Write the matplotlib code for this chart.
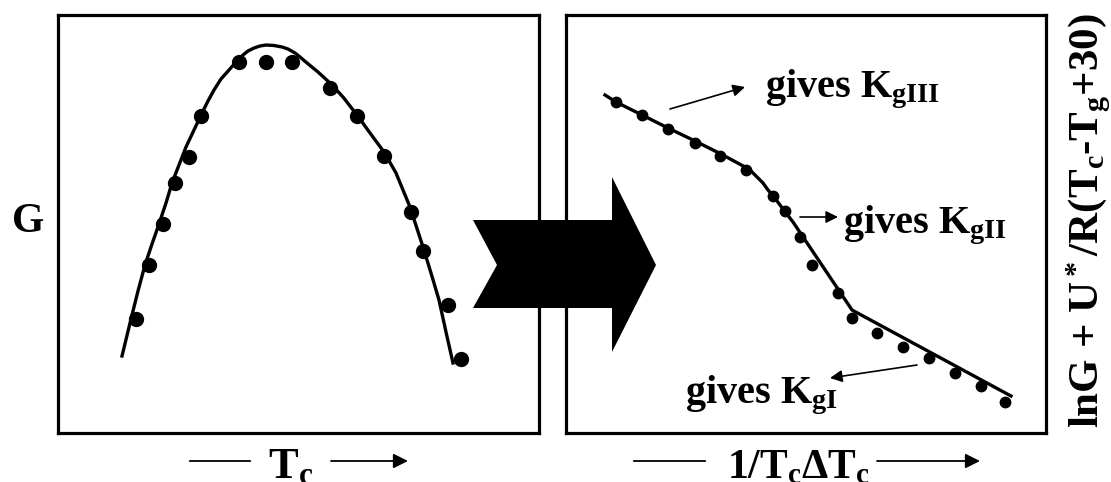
import matplotlib.pyplot as plt
from matplotlib.patches import Polygon, FancyArrowPatch

plt.rcParams['font.family'] = ['Liberation Serif', 'DejaVu Serif']
plt.rcParams['font.weight'] = 'bold'
plt.rcParams['mathtext.fontset'] = 'custom'
plt.rcParams['mathtext.rm'] = 'Liberation Serif:bold'
plt.rcParams['mathtext.it'] = 'Liberation Serif:bold'
plt.rcParams['mathtext.bf'] = 'Liberation Serif:bold'
plt.rcParams['mathtext.default'] = 'rm'

W, H = 1111, 482

# growth rate G against Tc (arbitrary units)
tc_pts = [78, 91, 105, 117, 131, 143, 181, 208, 234, 272, 299, 326, 353, 365, 390, 403]
g_pts = [114, 168, 209, 250, 276, 317, 371, 371, 371, 345, 317, 277, 221, 182, 128, 74]
tc_fit = [64, 73, 80, 87, 94, 101, 108, 114, 121, 128, 136, 144, 150, 156, 163, 171,
          179, 185, 190, 196, 202, 208, 216, 224, 230, 237, 242, 249, 260, 272, 285,
          299, 312, 326, 338, 352, 365, 373, 381, 388, 395]
g_fit = [77, 114, 142, 168, 189, 209, 230, 250, 268, 286, 303, 320, 332, 343, 354, 363,
         372, 378, 382, 385, 387, 388, 387.5, 386, 384, 380, 376, 370, 361, 350, 336,
         318, 300, 281, 260, 226, 186, 160, 133, 101, 70]

# lnG + U*/R(Tc-Tg+30) against 1/(Tc dTc)
inv_pts = [50, 76, 102, 129, 154, 180, 207, 219, 234, 246, 272, 286, 311, 337, 363, 389, 415, 439]
lng_pts = [331, 318, 304, 290, 277, 263, 237, 222, 196, 168, 140, 115, 100, 86, 75, 60, 47, 31]
inv_fit = [39, 50, 76, 102, 129, 155, 179, 185, 191, 197, 202, 208, 214, 220, 227, 286, 445]
lng_fit = [338, 331, 318, 305, 292, 279, 266, 262, 256, 250, 243, 236, 228, 220, 211, 123, 37]

fig = plt.figure(figsize=(W / 100, H / 100), dpi=100)
ax1 = fig.add_axes([58 / W, 49 / H, 481 / W, 418 / H])
ax2 = fig.add_axes([566 / W, 49 / H, 480 / W, 418 / H])

for ax in (ax1, ax2):
    ax.set_xticks([])
    ax.set_yticks([])
    for s in ax.spines.values():
        s.set_linewidth(2.3)
    ax.set_ylim(0, 418)

ax1.set_xlim(0, 481)
ax1.plot(tc_fit, g_fit, color='black', lw=2.4, solid_joinstyle='round')
ax1.plot(tc_pts, g_pts, 'o', color='black', ms=10)
ax1.set_ylabel('G', rotation=0, fontsize=30, fontweight='bold', va='center', ha='center')
ax1.yaxis.set_label_coords(-0.062, 0.505)

ax2.set_xlim(0, 480)
ax2.plot(inv_fit, lng_fit, color='black', lw=2.4, solid_joinstyle='round')
ax2.plot(inv_pts, lng_pts, 'o', color='black', ms=7.5)
ax2.yaxis.set_label_position('right')
ax2.set_ylabel('lnG + U$^*$/R(T$_c$-T$_g$+30)', rotation=90, fontsize=31,
               fontweight='bold', va='center', ha='center')
ax2.yaxis.set_label_coords(1.09, 0.507)

arrow_kw = dict(arrowstyle='-|>', mutation_scale=18, lw=1.2, color='black',
                shrinkA=0, shrinkB=0)
ax2.annotate('', xy=(179, 346), xytext=(104, 324), arrowprops=arrow_kw)
ax2.text(199, 336, 'gives K$_{gIII}$', fontsize=29, fontweight='bold', va='baseline')
ax2.annotate('', xy=(272, 216), xytext=(234, 216), arrowprops=arrow_kw)
ax2.text(277, 200, 'gives K$_{gII}$', fontsize=29, fontweight='bold', va='baseline')
ax2.annotate('', xy=(264, 55), xytext=(351, 68), arrowprops=arrow_kw)
ax2.text(119, 30, 'gives K$_{gI}$', fontsize=29, fontweight='bold', va='baseline')

# block arrow between the two panels
big = [(473, 220), (497, 265), (473, 308), (612, 308), (612, 352), (656, 265),
       (612, 177), (612, 220)]
fig.add_artist(Polygon([(x / W, 1 - y / H) for x, y in big], closed=True,
                       facecolor='black', edgecolor='black', lw=0,
                       transform=fig.transFigure, zorder=10))


def axis_arrow(x0, x1, x2, x3, y):
    fy = 1 - y / H
    fig.add_artist(FancyArrowPatch((x0 / W, fy), (x1 / W, fy), arrowstyle='-',
                                   lw=1.3, color='black', transform=fig.transFigure))
    fig.add_artist(FancyArrowPatch((x2 / W, fy), (x3 / W, fy), arrowstyle='-|>',
                                   mutation_scale=22, lw=1.3, color='black',
                                   shrinkA=0, shrinkB=0, transform=fig.transFigure))


axis_arrow(187, 253, 331, 408, 461)
fig.text(291 / W, 1 - 478 / H, 'T$_c$', fontsize=32, fontweight='bold',
         ha='center', va='baseline')
axis_arrow(631, 708, 877, 980, 461)
fig.text(727 / W, 1 - 478 / H, '1/T$_c$ΔT$_c$', fontsize=30, fontweight='bold',
         ha='left', va='baseline')

fig.savefig('out.png', dpi=100)
